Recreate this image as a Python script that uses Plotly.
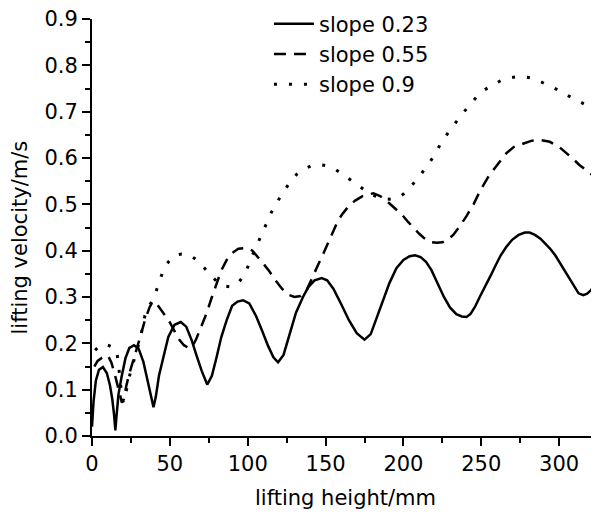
import plotly.graph_objects as go

# ---------------- data ----------------
x_023 = [0, 1, 2.5, 4.5, 7, 9.5, 11.5, 13, 14.2, 15, 15.8, 17, 19, 21.5, 24, 27, 30, 33, 36, 38.3,
         39.5, 41, 43, 45, 49, 53, 57, 60.5, 64, 67, 70.5, 74, 77, 80, 83, 86.5, 90, 93.5, 97, 101,
         105.5, 109.5, 113, 116.5, 119.5, 123, 127, 131, 135.5, 139, 143, 147.5, 151, 155, 160, 165,
         170, 175, 179, 183, 187, 191, 195.5, 200, 204, 207.5, 211, 214.5, 218, 222, 226, 230, 234,
         237.5, 240.5, 243, 246, 249, 252.5, 256, 259, 262.5, 266, 270, 274, 278, 281, 284.5, 288,
         291, 294, 297.5, 301, 304.5, 307.5, 310, 312.5, 315.5, 318, 320.5, 323, 326]
y_023 = [0.02, 0.075, 0.12, 0.143, 0.149, 0.136, 0.11, 0.08, 0.045, 0.012, 0.045, 0.09, 0.128, 0.168,
         0.19, 0.196, 0.188, 0.16, 0.115, 0.078, 0.062, 0.085, 0.13, 0.158, 0.214, 0.24, 0.246, 0.236,
         0.207, 0.175, 0.14, 0.111, 0.13, 0.17, 0.213, 0.25, 0.281, 0.29, 0.293, 0.286, 0.258, 0.225,
         0.195, 0.17, 0.159, 0.175, 0.222, 0.266, 0.3, 0.322, 0.336, 0.341, 0.336, 0.318, 0.285, 0.25,
         0.222, 0.208, 0.22, 0.258, 0.295, 0.33, 0.362, 0.38, 0.388, 0.39, 0.386, 0.376, 0.358, 0.33,
         0.3, 0.277, 0.263, 0.258, 0.257, 0.263, 0.279, 0.3, 0.322, 0.346, 0.367, 0.39, 0.408, 0.424,
         0.434, 0.439, 0.439, 0.434, 0.426, 0.416, 0.405, 0.39, 0.371, 0.35, 0.335, 0.32, 0.308, 0.304,
         0.307, 0.315, 0.328, 0.345]

x_055 = [1.5, 3.6, 6, 8.5, 10.5, 12.5, 14.5, 16.5, 18, 19.2, 20.5, 22, 24, 26, 28.7, 31.5, 34, 37, 39,
         41, 44, 47, 50, 53, 56, 59, 62, 64.5, 67, 70, 73.6, 77, 80, 83, 86.5, 90, 94, 99, 103, 107,
         110.5, 114, 118, 122, 126, 130, 134, 138, 142, 145, 148.6, 152, 155, 158, 161, 164.6, 169,
         174, 180.7, 185, 190, 195, 199, 203, 207, 210, 213, 217, 221.4, 225, 228.5, 232, 236, 240.6,
         245, 249.5, 255, 260, 266, 271, 277, 282, 288, 294, 300, 305, 309, 313, 318, 324, 326]
y_055 = [0.15, 0.162, 0.168, 0.174, 0.172, 0.158, 0.135, 0.11, 0.085, 0.072, 0.08, 0.108, 0.135,
         0.16, 0.188, 0.22, 0.25, 0.278, 0.29, 0.288, 0.275, 0.26, 0.245, 0.228, 0.208, 0.196, 0.19,
         0.193, 0.21, 0.235, 0.265, 0.3, 0.33, 0.357, 0.38, 0.395, 0.404, 0.406, 0.4, 0.385, 0.37,
         0.355, 0.335, 0.318, 0.305, 0.3, 0.302, 0.316, 0.344, 0.368, 0.394, 0.42, 0.445, 0.465, 0.48,
         0.495, 0.508, 0.518, 0.524, 0.518, 0.505, 0.49, 0.478, 0.462, 0.447, 0.437, 0.428, 0.419,
         0.417, 0.418, 0.424, 0.434, 0.452, 0.475, 0.5, 0.531, 0.562, 0.585, 0.61, 0.624, 0.632, 0.637,
         0.639, 0.635, 0.624, 0.61, 0.598, 0.585, 0.572, 0.556, 0.551]

x_09 = [2, 5, 8, 11, 14, 15.8, 17, 18, 19.3, 20.3, 22, 24.5, 27.5, 30.8, 34, 36.5, 39.4, 42.5, 45.8,
        49.5, 53.3, 57.6, 63, 68, 73.7, 77.5, 81, 84.5, 88.6, 91, 94.5, 98.3, 102.6, 106.8, 111, 115.4,
        120.7, 127, 131.5, 136.8, 141.5, 146.4, 151, 156, 160.5, 165, 170, 175, 180, 186, 191, 195.7,
        200, 204, 208, 211.7, 215.5, 219, 224.6, 231.6, 239, 247, 252, 257.7, 262.5, 267.4, 272,
        276.6, 281.5, 286.6, 291, 296, 301, 306, 311, 315.5, 320, 324.5, 326]
y_09 = [0.185, 0.195, 0.198, 0.195, 0.19, 0.185, 0.155, 0.12, 0.08, 0.072, 0.1, 0.135, 0.17, 0.207,
        0.26, 0.28, 0.295, 0.328, 0.358, 0.378, 0.39, 0.393, 0.39, 0.378, 0.358, 0.343, 0.33, 0.324,
        0.322, 0.324, 0.333, 0.35, 0.387, 0.419, 0.45, 0.484, 0.515, 0.547, 0.565, 0.577, 0.584, 0.586,
        0.583, 0.576, 0.566, 0.556, 0.543, 0.531, 0.52, 0.513, 0.511, 0.513, 0.522, 0.535, 0.551, 0.567,
        0.585, 0.601, 0.635, 0.668, 0.7, 0.732, 0.747, 0.758, 0.767, 0.772, 0.775, 0.776, 0.773, 0.767,
        0.76, 0.753, 0.744, 0.734, 0.725, 0.717, 0.71, 0.702, 0.7]

series_names = ["slope 0.23", "slope 0.55", "slope 0.9"]
x_ticks = [0, 50, 100, 150, 200, 250, 300]
y_ticks = [0.0, 0.1, 0.2, 0.3, 0.4, 0.5, 0.6, 0.7, 0.8, 0.9]
x_title = "lifting height/mm"
y_title = "lifting velocity/m/s"

# ---------------- figure ----------------
# The page body keeps the browser's default 8px margin, so the figure is
# sized 8px smaller than the window and positioned to land on the reference.
FONT = "DejaVu Sans, Verdana, sans-serif"
TICK_SIZE = 21
TEXT_SIZE = 21
fig = go.Figure()
fig.add_trace(go.Scatter(x=x_023, y=y_023, mode="lines", name=series_names[0],
                         line=dict(color="black", width=2.5)))
fig.add_trace(go.Scatter(x=x_055, y=y_055, mode="lines", name=series_names[1],
                         line=dict(color="black", width=2.5, dash="12px,8px")))
fig.add_trace(go.Scatter(x=x_09, y=y_09, mode="lines", name=series_names[2],
                         line=dict(color="black", width=3, dash="3px,12px")))

axis_common = dict(
    showline=True, linecolor="black", linewidth=2, mirror=False,
    ticks="outside", ticklen=8, tickwidth=2, tickcolor="black",
    showgrid=False, zeroline=False, automargin=False,
    ticklabeloverflow="allow",
    tickfont=dict(family=FONT, size=TICK_SIZE, color="black"),
)
fig.update_xaxes(range=[0, 325.6], tickvals=x_ticks, ticktext=[str(v) for v in x_ticks],
                 minor=dict(ticks="outside", ticklen=5, tickwidth=2, tickcolor="black", dtick=25, tick0=0),
                 **axis_common)
fig.update_yaxes(range=[0, 0.9], tickvals=y_ticks, ticktext=[f"{v:.1f}" for v in y_ticks],
                 minor=dict(ticks="outside", ticklen=5, tickwidth=2, tickcolor="black", dtick=0.05, tick0=0),
                 **axis_common)

fig.update_layout(
    template="none",
    width=591, height=508, autosize=False,
    margin=dict(l=84, r=0, t=11, b=80, autoexpand=False),
    paper_bgcolor="white", plot_bgcolor="white",
    font=dict(family=FONT, size=TEXT_SIZE, color="black"),
    showlegend=True,
    legend=dict(x=0.349, y=0.916, xanchor="left", yanchor="middle",
                bgcolor="rgba(0,0,0,0)", borderwidth=0, itemwidth=40,
                font=dict(family=FONT, size=TEXT_SIZE, color="black"),
                tracegroupgap=0),
    annotations=[
        dict(text=x_title, xref="paper", yref="paper", x=0.5, y=-0.1487,
             xanchor="center", yanchor="middle", showarrow=False,
             font=dict(family=FONT, size=TEXT_SIZE, color="black")),
        dict(text=y_title, xref="paper", yref="paper", x=-0.142, y=0.476,
             xanchor="center", yanchor="middle", textangle=-90, showarrow=False,
             font=dict(family=FONT, size=TEXT_SIZE, color="black")),
    ],
)

fig.write_html("out.html")
